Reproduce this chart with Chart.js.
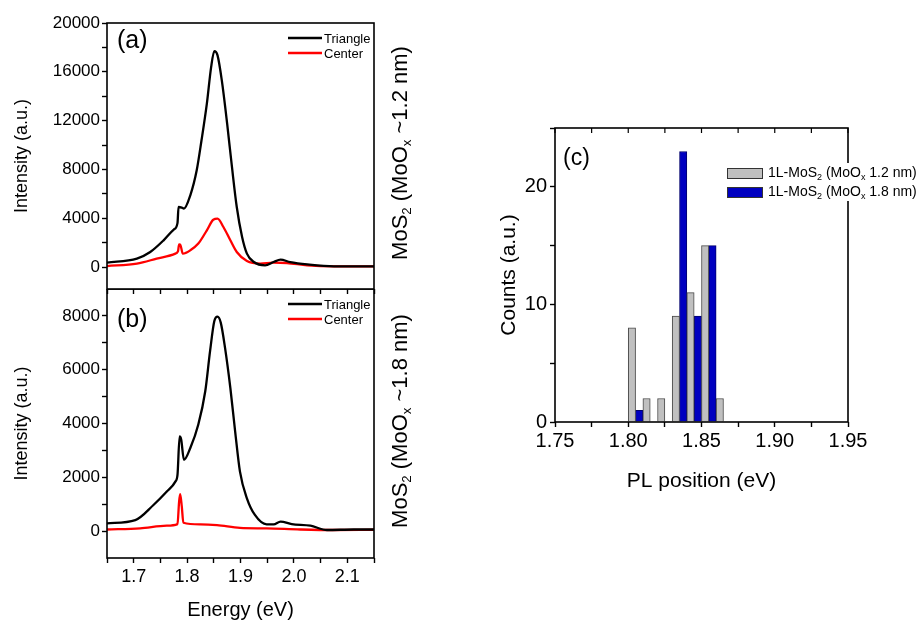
<!DOCTYPE html>
<html lang="en">
<head>
  <meta charset="UTF-8" />
  <title>PL spectra - MoS2 / MoOx</title>
  <script src="https://cdn.jsdelivr.net/npm/chart.js"></script>
  <style>
    body {
      margin: 0;
      background: #fff;
      width: 919px;
      height: 622px;
      position: relative;
      overflow: hidden;
      font-family: 'Liberation Sans', Arial, sans-serif;
    }
    canvas { position: absolute; }
    #chartA { left: 0; top: 0; }
    #chartB { left: 0; top: 289px; }
    #chartC { left: 470px; top: 100px; }
    .side {
      position: absolute;
      left: 400px;
      font-size: 22px;
      white-space: nowrap;
      color: #000;
      transform: translate(-50%, -50%) rotate(-90deg);
    }
    .side sub { font-size: 0.6em; vertical-align: -0.3em; line-height: 0; }
  </style>
</head>
<body>
  <canvas id="chartA" width="420" height="296"></canvas>
  <canvas id="chartB" width="420" height="333"></canvas>
  <canvas id="chartC" width="449" height="400"></canvas>
  <div class="side" style="top:153px">MoS<sub>2</sub> (MoO<sub>x</sub> ~1.2 nm)</div>
  <div class="side" style="top:421px">MoS<sub>2</sub> (MoO<sub>x</sub> ~1.8 nm)</div>

  <script>
    // --- data ---
    // (a) MoOx ~1.2 nm
    const energyTriA = [1.65, 1.706, 1.731, 1.756, 1.775, 1.782, 1.784, 1.790, 1.794, 1.806, 1.818, 1.827, 1.837, 1.845, 1.851, 1.857, 1.865, 1.875, 1.884, 1.893, 1.903, 1.912, 1.925, 1.946, 1.962, 1.975, 1.993, 2.025, 2.075, 2.15];
    const intTriA = [360, 690, 1230, 2190, 3070, 3600, 4920, 4870, 4790, 5880, 7930, 10390, 13390, 16390, 17700, 17350, 15300, 11750, 8200, 4920, 2460, 1100, 410, 140, 410, 600, 410, 220, 60, 60];
    const energyCenA = [1.65, 1.706, 1.743, 1.778, 1.783, 1.785, 1.787, 1.792, 1.806, 1.821, 1.837, 1.849, 1.857, 1.868, 1.881, 1.893, 1.912, 1.937, 1.962, 1.987, 2.025, 2.075, 2.15];
    const intCenA = [80, 280, 690, 1100, 1300, 1860, 1850, 1100, 1370, 1920, 3010, 3880, 3960, 3280, 2190, 1230, 490, 280, 360, 330, 140, 60, 60];

    // (b) MoOx ~1.8 nm
    const energyTriB = [1.65, 1.703, 1.737, 1.762, 1.778, 1.782, 1.786, 1.789, 1.794, 1.806, 1.821, 1.834, 1.843, 1.851, 1.857, 1.863, 1.871, 1.881, 1.890, 1.899, 1.912, 1.927, 1.949, 1.962, 1.975, 1.996, 2.031, 2.062, 2.112, 2.15];
    const intTriB = [290, 410, 970, 1470, 1840, 2090, 3520, 3400, 2650, 3090, 3960, 5200, 6690, 7810, 7970, 7750, 6820, 5320, 3700, 2210, 1220, 600, 250, 250, 350, 260, 200, 40, 60, 60];
    const energyCenB = [1.65, 1.712, 1.762, 1.782, 1.785, 1.787, 1.790, 1.793, 1.825, 1.856, 1.899, 1.949, 2.012, 2.074, 2.15];
    const intCenB = [60, 100, 200, 260, 1090, 1370, 930, 310, 250, 220, 120, 100, 60, 40, 50];

    // (c) histogram of PL peak position
    const binCenters = [1.805, 1.815, 1.825, 1.835, 1.845, 1.855, 1.865];
    const counts12 = [8, 2, 2, 9, 11, 15, 2];
    const counts18 = [1, 0, 0, 23, 9, 15, 0];
    const histLabels = ['1L-MoS_2 (MoO_x 1.2 nm)', '1L-MoS_2 (MoO_x 1.8 nm)'];

    // ticks
    const energyTicks = [1.65, 1.70, 1.75, 1.80, 1.85, 1.90, 1.95, 2.00, 2.05, 2.10, 2.15];
    const energyLabels = [1.7, 1.8, 1.9, 2.0, 2.1];
    const ticksA = [0, 2000, 4000, 6000, 8000, 10000, 12000, 14000, 16000, 18000, 20000];
    const labelsA = [0, 4000, 8000, 12000, 16000, 20000];
    const ticksB = [0, 1000, 2000, 3000, 4000, 5000, 6000, 7000, 8000];
    const labelsB = [0, 2000, 4000, 6000, 8000];
    const posTicks = [1.75, 1.775, 1.80, 1.825, 1.85, 1.875, 1.90, 1.925, 1.95];
    const posLabels = [1.75, 1.80, 1.85, 1.90, 1.95];
    const countTicks = [0, 5, 10, 15, 20, 25];
    const countLabels = [0, 10, 20];

    Chart.defaults.font.family = "'Liberation Sans', Arial, sans-serif";
    Chart.defaults.color = '#000';

    const has = (arr, v) => arr.some(a => Math.abs(a - v) < 1e-6);
    const pts = (xs, ys) => xs.map((x, i) => ({ x: x, y: ys[i] }));

    // fixed axis sizes, no extra room for end labels
    const fixWidth = w => s => { s.width = w; s.paddingTop = 0; s.paddingBottom = 0; };
    const fixHeight = h => s => { s.height = h; s.paddingLeft = 0; s.paddingRight = 0; };

    // box around the plot area
    const frame = {
      id: 'frame',
      afterDraw(chart) {
        const { ctx, chartArea: a } = chart;
        ctx.save();
        ctx.strokeStyle = '#000';
        ctx.lineWidth = 1.6;
        ctx.strokeRect(a.left, a.top, a.right - a.left, a.bottom - a.top);
        ctx.restore();
      }
    };

    // panel letter + line legend
    const panelDeco = {
      id: 'panelDeco',
      afterDraw(chart, args, o) {
        const ctx = chart.ctx;
        ctx.save();
        ctx.fillStyle = '#000';
        ctx.textBaseline = 'middle';
        ctx.font = o.letterSize + "px 'Liberation Sans', Arial";
        ctx.fillText(o.letter, o.letterX, o.letterY);
        if (o.legX) {
          chart.data.datasets.forEach((ds, i) => {
            const y = o.legY + i * 15;
            ctx.strokeStyle = ds.borderColor;
            ctx.lineWidth = 2.5;
            ctx.beginPath();
            ctx.moveTo(o.legX, y);
            ctx.lineTo(o.legX + 34, y);
            ctx.stroke();
            ctx.font = "13px 'Liberation Sans', Arial";
            ctx.fillText(ds.label, o.legX + 36, y + 1);
          });
        }
        ctx.restore();
      }
    };

    // legend with subscripts + inward top ticks for (c)
    const histLegend = {
      id: 'histLegend',
      afterDraw(chart, args, o) {
        const ctx = chart.ctx;
        const xs = chart.scales.x;
        const top = chart.chartArea.top;
        ctx.save();
        ctx.strokeStyle = '#000';
        ctx.lineWidth = 1.2;
        xs.ticks.forEach(t => {
          const px = xs.getPixelForValue(t.value);
          ctx.beginPath();
          ctx.moveTo(px, top);
          ctx.lineTo(px, top + 5);
          ctx.stroke();
        });
        ctx.fillStyle = '#fff';
        ctx.fillRect(o.x - 3, o.y - 5, chart.width - o.x + 3, 38);
        ctx.textBaseline = 'middle';
        chart.data.datasets.forEach((ds, i) => {
          const y = o.y + i * 19;
          ctx.fillStyle = ds.backgroundColor;
          ctx.fillRect(o.x, y, 35, 10);
          ctx.strokeStyle = '#333';
          ctx.lineWidth = 1;
          ctx.strokeRect(o.x + 0.5, y + 0.5, 35, 10);
          ctx.fillStyle = '#000';
          let tx = o.x + 41;
          const parts = histLabels[i].split(/_(.)/);
          parts.forEach((p, k) => {
            const sub = k % 2 === 1;
            ctx.font = (sub ? 9 : 14) + "px 'Liberation Sans', Arial";
            ctx.fillText(p, tx, y + 5 + (sub ? 5 : 0));
            tx += ctx.measureText(p).width;
          });
        });
        ctx.restore();
      }
    };

    const tickGrid = { drawOnChartArea: false, tickLength: 5, color: '#000', tickWidth: 1.4 };

    function lineSet(label, color, xs, ys) {
      return {
        label: label,
        data: pts(xs, ys),
        borderColor: color,
        borderWidth: 2.3,
        pointRadius: 0,
        cubicInterpolationMode: 'monotone'
      };
    }

    // (a)
    new Chart(document.getElementById('chartA'), {
      type: 'line',
      data: { datasets: [
        lineSet('Triangle', '#000', energyTriA, intTriA),
        lineSet('Center', '#ff0000', energyCenA, intCenA)
      ] },
      options: {
        responsive: false,
        animation: false,
        layout: { padding: { top: 23, right: 46, left: 0, bottom: 0 } },
        plugins: {
          legend: { display: false },
          tooltip: { enabled: false },
          panelDeco: { letter: '(a)', letterSize: 25, letterX: 117, letterY: 41, legX: 288, legY: 38 }
        },
        scales: {
          x: {
            type: 'linear', min: 1.65, max: 2.15,
            afterBuildTicks: s => { s.ticks = energyTicks.map(v => ({ value: v })); },
            ticks: { display: false },
            grid: tickGrid,
            border: { display: false },
            afterFit: fixHeight(7)
          },
          y: {
            min: -1800, max: 20000,
            afterBuildTicks: s => { s.ticks = ticksA.map(v => ({ value: v })); },
            ticks: { font: { size: 17 }, padding: 2, autoSkip: false, callback: v => has(labelsA, v) ? String(v) : '' },
            grid: tickGrid,
            border: { display: false },
            title: { display: true, text: 'Intensity (a.u.)', font: { size: 18 }, padding: { top: 11, bottom: 0 } },
            afterFit: fixWidth(107)
          }
        }
      },
      plugins: [frame, panelDeco]
    });

    // (b)
    new Chart(document.getElementById('chartB'), {
      type: 'line',
      data: { datasets: [
        lineSet('Triangle', '#000', energyTriB, intTriB),
        lineSet('Center', '#ff0000', energyCenB, intCenB)
      ] },
      options: {
        responsive: false,
        animation: false,
        layout: { padding: { top: 0, right: 46, left: 0, bottom: 0 } },
        plugins: {
          legend: { display: false },
          tooltip: { enabled: false },
          panelDeco: { letter: '(b)', letterSize: 25, letterX: 117, letterY: 31, legX: 288, legY: 15 }
        },
        scales: {
          x: {
            type: 'linear', min: 1.65, max: 2.15,
            afterBuildTicks: s => { s.ticks = energyTicks.map(v => ({ value: v })); },
            ticks: { font: { size: 18 }, padding: 3, autoSkip: false, maxRotation: 0, callback: v => has(energyLabels, v) ? v.toFixed(1) : '' },
            grid: tickGrid,
            border: { display: false },
            title: { display: true, text: 'Energy (eV)', font: { size: 20 }, padding: { top: 0, bottom: 0 } },
            afterFit: fixHeight(64)
          },
          y: {
            min: -1000, max: 9000,
            afterBuildTicks: s => { s.ticks = ticksB.map(v => ({ value: v })); },
            ticks: { font: { size: 17 }, padding: 2, autoSkip: false, callback: v => has(labelsB, v) ? String(v) : '' },
            grid: tickGrid,
            border: { display: false },
            title: { display: true, text: 'Intensity (a.u.)', font: { size: 18 }, padding: { top: 11, bottom: 0 } },
            afterFit: fixWidth(107)
          }
        }
      },
      plugins: [frame, panelDeco]
    });

    // (c)
    new Chart(document.getElementById('chartC'), {
      type: 'bar',
      data: { datasets: [
        {
          label: histLabels[0],
          data: pts(binCenters, counts12.map(c => c || null)),
          backgroundColor: '#c0c0c0',
          borderColor: '#4a4a4a',
          borderWidth: 1,
          barPercentage: 1,
          categoryPercentage: 1
        },
        {
          label: histLabels[1],
          data: pts(binCenters, counts18.map(c => c || null)),
          backgroundColor: '#0000c0',
          borderColor: '#00006e',
          borderWidth: 1,
          barPercentage: 1,
          categoryPercentage: 1
        }
      ] },
      options: {
        responsive: false,
        animation: false,
        layout: { padding: { top: 28, right: 71, left: 0, bottom: 0 } },
        plugins: {
          legend: { display: false },
          tooltip: { enabled: false },
          panelDeco: { letter: '(c)', letterSize: 23, letterX: 93, letterY: 59 },
          histLegend: { x: 257, y: 68 }
        },
        scales: {
          x: {
            type: 'linear', min: 1.75, max: 1.95, offset: false,
            afterBuildTicks: s => { s.ticks = posTicks.map(v => ({ value: v })); },
            ticks: { font: { size: 20 }, padding: 2, autoSkip: false, maxRotation: 0, callback: v => has(posLabels, v) ? v.toFixed(2) : '' },
            grid: Object.assign({ offset: false }, tickGrid),
            border: { display: false },
            title: { display: true, text: 'PL position (eV)', font: { size: 21 }, padding: { top: 0, bottom: 6 } },
            afterFit: fixHeight(78)
          },
          y: {
            min: 0, max: 25,
            afterBuildTicks: s => { s.ticks = countTicks.map(v => ({ value: v })); },
            ticks: { font: { size: 20 }, padding: 3, autoSkip: false, callback: v => has(countLabels, v) ? String(v) : '' },
            grid: tickGrid,
            border: { display: false },
            title: { display: true, text: 'Counts (a.u.)', font: { size: 21 }, padding: { top: 27, bottom: 0 } },
            afterFit: fixWidth(85)
          }
        }
      },
      plugins: [frame, panelDeco, histLegend]
    });
  </script>
</body>
</html>
